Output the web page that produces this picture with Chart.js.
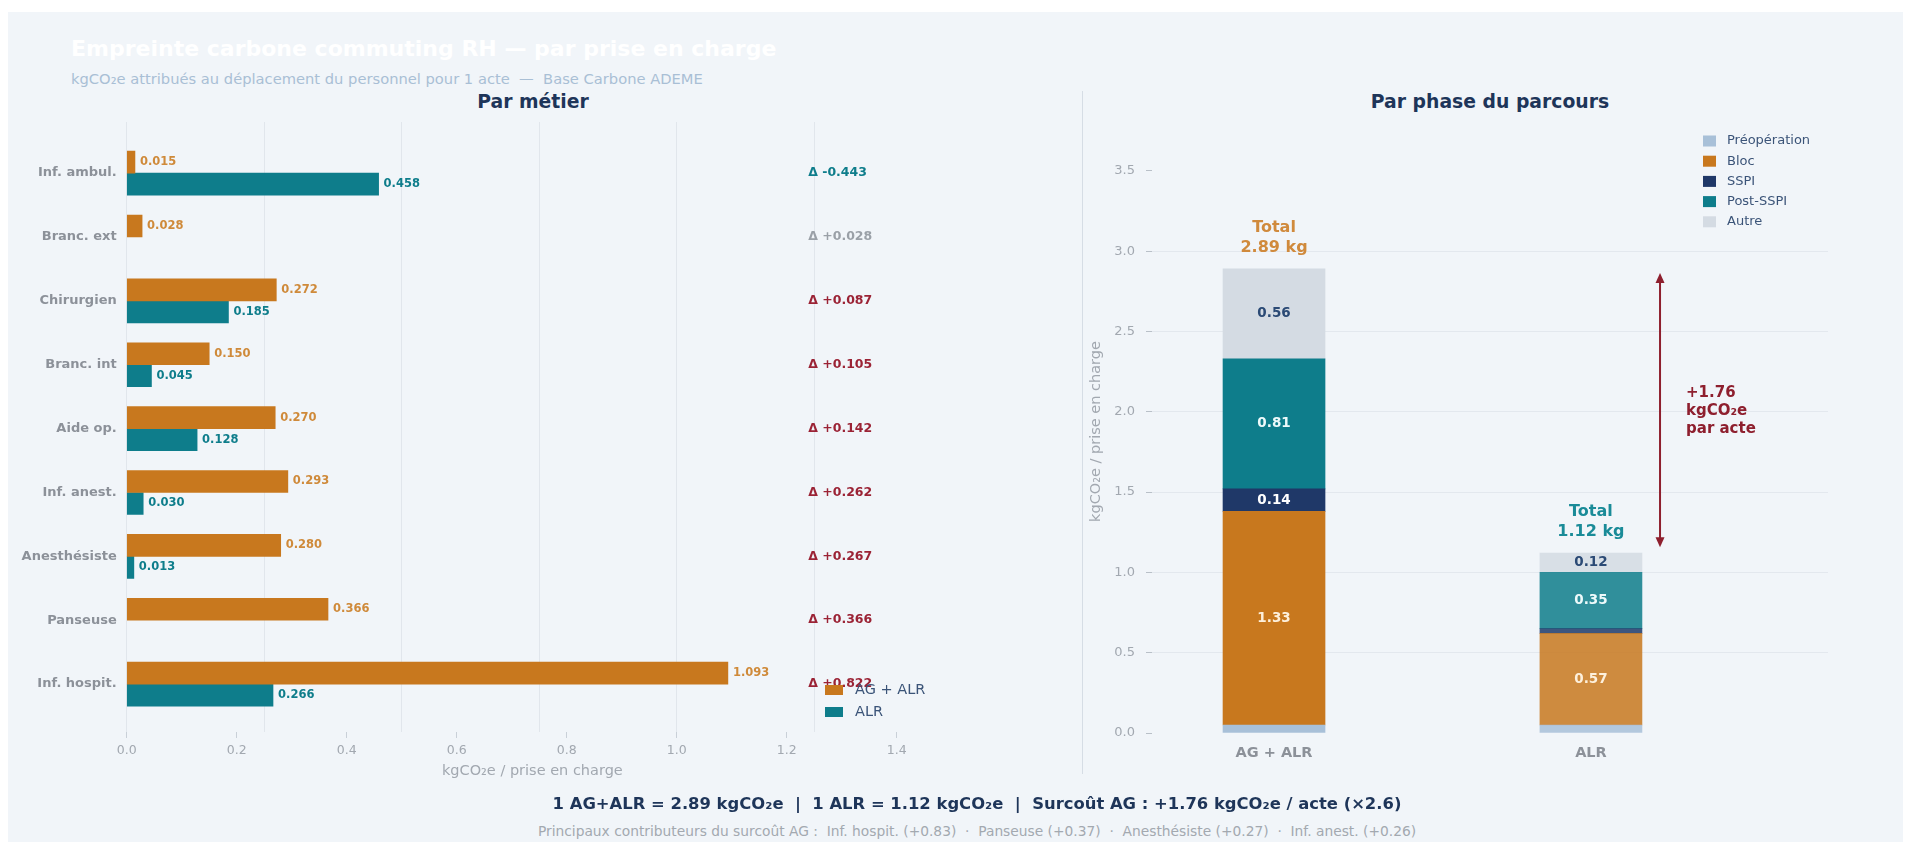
<!DOCTYPE html>
<html lang="fr">
<head>
<meta charset="utf-8">
<title>Empreinte carbone commuting RH</title>
<script src="https://cdn.jsdelivr.net/npm/chart.js@4.4.0/dist/chart.umd.min.js"></script>
<style>
  html, body { margin: 0; padding: 0; background: #ffffff; }
  body { width: 1911px; height: 842px; position: relative; overflow: hidden; font-family: 'DejaVu Sans', sans-serif; }
  .panel { position: absolute; left: 8px; top: 12px; width: 1895px; height: 830px; background: #f1f5f9; }
  .txt { position: absolute; white-space: pre; }
  #title { left: 71px; top: 35px; font-size: 22px; line-height: 28px; font-weight: bold; color: #ffffff; }
  #subtitle { left: 71px; top: 70px; font-size: 14.7px; line-height: 18px; color: #a9bfd5; }
  .sub { font-size: 18.8px; line-height: 24px; font-weight: bold; color: #1e3559; text-align: center; width: 600px; }
  #t-left { left: 233px; top: 90px; }
  #t-right { left: 1190px; top: 90px; }
  #sep { position: absolute; left: 1082px; top: 91px; width: 1px; height: 683px; background: #d6dde5; }
  .foot { left: 77px; width: 1800px; text-align: center; }
  #foot1 { top: 793px; font-size: 16.4px; line-height: 22px; font-weight: bold; color: #1e3559; }
  #foot2 { top: 822px; font-size: 13.8px; line-height: 18px; color: #a3a9b0; }
  canvas { position: absolute; }
  #left { left: 0; top: 110px; }
  #right { left: 1085px; top: 110px; }
</style>
</head>
<body>
<div class="panel"></div>
<div class="txt" id="title">Empreinte carbone commuting RH — par prise en charge</div>
<div class="txt" id="subtitle">kgCO₂e attribués au déplacement du personnel pour 1 acte  —  Base Carbone ADEME</div>
<div class="txt sub" id="t-left">Par métier</div>
<div class="txt sub" id="t-right">Par phase du parcours</div>
<div id="sep"></div>
<canvas id="left" width="960" height="690"></canvas>
<canvas id="right" width="826" height="690"></canvas>
<div class="txt foot" id="foot1">1 AG+ALR = 2.89 kgCO₂e  |  1 ALR = 1.12 kgCO₂e  |  Surcoût AG : +1.76 kgCO₂e / acte (×2.6)</div>
<div class="txt foot" id="foot2">Principaux contributeurs du surcoût AG :  Inf. hospit. (+0.83)  ·  Panseuse (+0.37)  ·  Anesthésiste (+0.27)  ·  Inf. anest. (+0.26)</div>

<script>
// --- data: par métier ---
const metiers = ['Inf. ambul.', 'Branc. ext', 'Chirurgien', 'Branc. int', 'Aide op.', 'Inf. anest.', 'Anesthésiste', 'Panseuse', 'Inf. hospit.'];
const agAlr = [0.015, 0.028, 0.272, 0.150, 0.270, 0.293, 0.280, 0.366, 1.093];
const alr = [0.458, 0, 0.185, 0.045, 0.128, 0.030, 0.013, 0, 0.266];
const deltas = [-0.443, 0.028, 0.087, 0.105, 0.142, 0.262, 0.267, 0.366, 0.822];
const xTicks = [0, 0.2, 0.4, 0.6, 0.8, 1.0, 1.2, 1.4];
const xGrid = [0, 0.25, 0.5, 0.75, 1.0, 1.25];

// --- data: par phase du parcours ---
const parcours = ['AG + ALR', 'ALR'];
const phases = ['Préopération', 'Bloc', 'SSPI', 'Post-SSPI', 'Autre'];
const preop = [0.05, 0.05];
const bloc = [1.33, 0.57];
const sspi = [0.14, 0.03];
const postSspi = [0.81, 0.35];
const autre = [0.56, 0.12];
const totals = [2.89, 1.12];
const surcout = 1.76;
const yTicks = [0, 0.5, 1.0, 1.5, 2.0, 2.5, 3.0, 3.5];

const ORANGE = '#c8781e';
const TEAL = '#0e7d8b';
const NAVY = '#1f3868';
const RED = '#8e1f2e';
const GREY_TXT = '#a2a8b0';
const FONT = "'DejaVu Sans', sans-serif";

Chart.defaults.font.family = FONT;
Chart.defaults.color = GREY_TXT;

// legend drawn inside the plot area
const insideLegend = {
  id: 'insideLegend',
  afterDraw(chart, args, o) {
    const ctx = chart.ctx, a = chart.chartArea;
    ctx.save();
    ctx.font = o.size + 'px ' + FONT;
    ctx.textBaseline = 'middle';
    ctx.textAlign = 'left';
    o.items.forEach((it, i) => {
      const y = a[o.anchorY] + o.dy + i * o.rowH;
      const x = a[o.anchorX] + o.dx;
      ctx.fillStyle = it.color;
      ctx.fillRect(x, y - o.boxH / 2, o.boxW, o.boxH);
      ctx.fillStyle = o.textColor;
      ctx.fillText(it.label, x + o.boxW + o.gap, y);
    });
    ctx.restore();
  }
};

// value labels + deltas on the left chart
const metierLabels = {
  id: 'metierLabels',
  afterDatasetsDraw(chart) {
    const ctx = chart.ctx;
    const xs = chart.scales.x, ys = chart.scales.y;
    ctx.save();
    ctx.textBaseline = 'middle';
    ctx.textAlign = 'left';
    ctx.font = 'bold 11.5px ' + FONT;
    const cols = ['#cf8a3a', TEAL];
    chart.data.datasets.forEach((ds, di) => {
      chart.getDatasetMeta(di).data.forEach((el, i) => {
        const v = ds.data[i].x;
        if (!v) return;
        ctx.fillStyle = cols[di];
        ctx.fillText(v.toFixed(3), el.x + 5, el.y);
      });
    });
    ctx.font = 'bold 12.5px ' + FONT;
    const dx = xs.getPixelForValue(1.239);
    deltas.forEach((d, i) => {
      ctx.fillStyle = d < 0 ? TEAL : (d < 0.05 ? '#9aa0a7' : '#9b2335');
      ctx.fillText('Δ ' + (d >= 0 ? '+' : '') + d.toFixed(3), dx, ys.getPixelForValue(i));
    });
    ctx.restore();
  }
};

new Chart(document.getElementById('left'), {
  type: 'bar',
  data: {
    datasets: [
      { label: 'AG + ALR', data: agAlr.map((v, i) => ({ x: v || null, y: i })), backgroundColor: ORANGE },
      { label: 'ALR', data: alr.map((v, i) => ({ x: v || null, y: i })), backgroundColor: TEAL }
    ]
  },
  options: {
    indexAxis: 'y',
    responsive: false,
    animation: false,
    layout: { padding: { top: 12, right: 22, left: 0, bottom: 0 } },
    datasets: { bar: { barThickness: 22 } },
    plugins: {
      legend: { display: false },
      tooltip: { enabled: false },
      insideLegend: {
        anchorX: 'right', anchorY: 'bottom', dx: -113, dy: -42, rowH: 22,
        boxW: 18, boxH: 10, gap: 12, size: 14.5, textColor: '#3b5478',
        items: [{ label: 'AG + ALR', color: ORANGE }, { label: 'ALR', color: TEAL }]
      }
    },
    scales: {
      y: {
        type: 'linear', reverse: true, offset: false, min: -0.80, max: 8.75,
        afterBuildTicks: s => { s.ticks = metiers.map((m, i) => ({ value: i })); },
        afterFit: s => { s.width = 126.7; s.paddingTop = 0; s.paddingBottom = 0; },
        grid: { display: false, drawTicks: false },
        border: { display: false },
        ticks: { callback: v => metiers[v], padding: 10, color: '#8c9199', font: { size: 13, weight: 'bold' } }
      },
      x: {
        type: 'linear', position: 'bottom', min: 0, max: 1.475,
        afterBuildTicks: s => { s.ticks = xTicks.map(v => ({ value: v })); },
        afterFit: s => { s.height = 68; },
        grid: { drawOnChartArea: false, drawTicks: true, tickLength: 6, tickColor: '#c9d0d8' },
        border: { display: false },
        ticks: { callback: v => v.toFixed(1), padding: 5, color: GREY_TXT, font: { size: 12.5 } },
        title: { display: true, text: 'kgCO₂e / prise en charge', color: GREY_TXT, font: { size: 14.5 }, padding: { top: 0, bottom: 20 } }
      },
      xg: {
        type: 'linear', position: 'bottom', min: 0, max: 1.475,
        afterBuildTicks: s => { s.ticks = xGrid.map(v => ({ value: v })); },
        afterFit: s => { s.height = 0; },
        grid: { drawTicks: false, color: '#e1e6ec' },
        border: { display: false },
        ticks: { display: false }
      }
    }
  },
  plugins: [metierLabels, insideLegend]
});

// --- right chart ---
const phaseData = [preop, bloc, sspi, postSspi, autre];
const phaseColors = ['#a8c0d8', ORANGE, NAVY, TEAL, '#d4dbe3'];
const phaseColorsAlr = ['rgba(168,192,216,0.85)', 'rgba(200,120,30,0.85)', 'rgba(31,56,104,0.85)', 'rgba(14,125,139,0.85)', 'rgba(212,219,227,0.85)'];
const segText = ['#ffffff', '#fdf0dc', '#ffffff', '#eefafb', '#2b4a75'];
const totalColors = ['#d08a3c', '#1a8b98'];
const arrowX = 1.218, noteX = 1.30;

const phaseLabels = {
  id: 'phaseLabels',
  afterDatasetsDraw(chart) {
    const ctx = chart.ctx;
    const xs = chart.scales.x, ys = chart.scales.y;
    ctx.save();
    ctx.textAlign = 'center';
    ctx.textBaseline = 'middle';
    ctx.font = 'bold 13.5px ' + FONT;
    chart.data.datasets.forEach((ds, di) => {
      chart.getDatasetMeta(di).data.forEach((el, i) => {
        const v = ds.data[i].y;
        if (v < 0.1) return;
        ctx.fillStyle = segText[di];
        ctx.fillText(v.toFixed(2), el.x, (el.y + el.base) / 2);
      });
    });
    // totals
    ctx.font = 'bold 16px ' + FONT;
    totals.forEach((t, i) => {
      const x = xs.getPixelForValue(i), y = ys.getPixelForValue(t);
      ctx.fillStyle = totalColors[i];
      ctx.fillText('Total', x, y - 41);
      ctx.fillText(t.toFixed(2) + ' kg', x, y - 21);
    });
    // double arrow between totals
    const ax = xs.getPixelForValue(arrowX);
    const y1 = ys.getPixelForValue(totals[0]) + 4, y2 = ys.getPixelForValue(totals[1]) - 6;
    ctx.strokeStyle = RED;
    ctx.fillStyle = RED;
    ctx.lineWidth = 2;
    ctx.beginPath();
    ctx.moveTo(ax, y1 + 8);
    ctx.lineTo(ax, y2 - 8);
    ctx.stroke();
    ctx.beginPath();
    ctx.moveTo(ax, y1); ctx.lineTo(ax - 4.5, y1 + 10); ctx.lineTo(ax + 4.5, y1 + 10); ctx.closePath(); ctx.fill();
    ctx.beginPath();
    ctx.moveTo(ax, y2); ctx.lineTo(ax - 4.5, y2 - 10); ctx.lineTo(ax + 4.5, y2 - 10); ctx.closePath(); ctx.fill();
    ctx.textAlign = 'left';
    ctx.font = 'bold 15px ' + FONT;
    const nx = xs.getPixelForValue(noteX), my = ys.getPixelForValue((totals[0] + totals[1]) / 2);
    ['+' + surcout.toFixed(2), 'kgCO₂e', 'par acte'].forEach((s, k) => ctx.fillText(s, nx, my + (k - 1) * 18));
    ctx.restore();
  }
};

new Chart(document.getElementById('right'), {
  type: 'bar',
  data: {
    datasets: phases.map((p, k) => ({
      label: p,
      data: phaseData[k].map((v, i) => ({ x: i, y: v })),
      backgroundColor: [phaseColors[k], phaseColorsAlr[k]]
    }))
  },
  options: {
    responsive: false,
    animation: false,
    layout: { padding: { top: 20, right: 83, left: 0, bottom: 0 } },
    datasets: { bar: { barThickness: 102 } },
    plugins: {
      legend: { display: false },
      tooltip: { enabled: false },
      insideLegend: {
        anchorX: 'right', anchorY: 'top', dx: -125, dy: 11, rowH: 20.2,
        boxW: 13, boxH: 11, gap: 11, size: 13, textColor: '#3b5478',
        items: phases.map((p, k) => ({ label: p, color: phaseColors[k] }))
      }
    },
    scales: {
      x: {
        type: 'linear', stacked: true, offset: false, min: -0.385, max: 1.748,
        afterBuildTicks: s => { s.ticks = parcours.map((p, i) => ({ value: i })); },
        afterFit: s => { s.height = 67; },
        grid: { display: false, drawTicks: false },
        border: { display: false },
        ticks: { callback: v => parcours[v], padding: 12, color: '#8c9199', font: { size: 14.5, weight: 'bold' } }
      },
      y: {
        stacked: true, min: 0, max: 3.755,
        afterBuildTicks: s => { s.ticks = yTicks.map(v => ({ value: v })); },
        afterFit: s => { s.width = 67; },
        grid: {
          color: c => (c.tick && c.tick.value > 0 && c.tick.value < 3.2) ? '#e3e8ee' : 'rgba(0,0,0,0)',
          tickColor: '#b9c0c8', tickLength: 6
        },
        border: { display: false },
        ticks: { callback: v => v.toFixed(1), padding: 11, color: GREY_TXT, font: { size: 13 } },
        title: { display: true, text: 'kgCO₂e / prise en charge', color: GREY_TXT, font: { size: 14.5 }, padding: { top: 3, bottom: 0 } }
      }
    }
  },
  plugins: [phaseLabels, insideLegend]
});
</script>
</body>
</html>
